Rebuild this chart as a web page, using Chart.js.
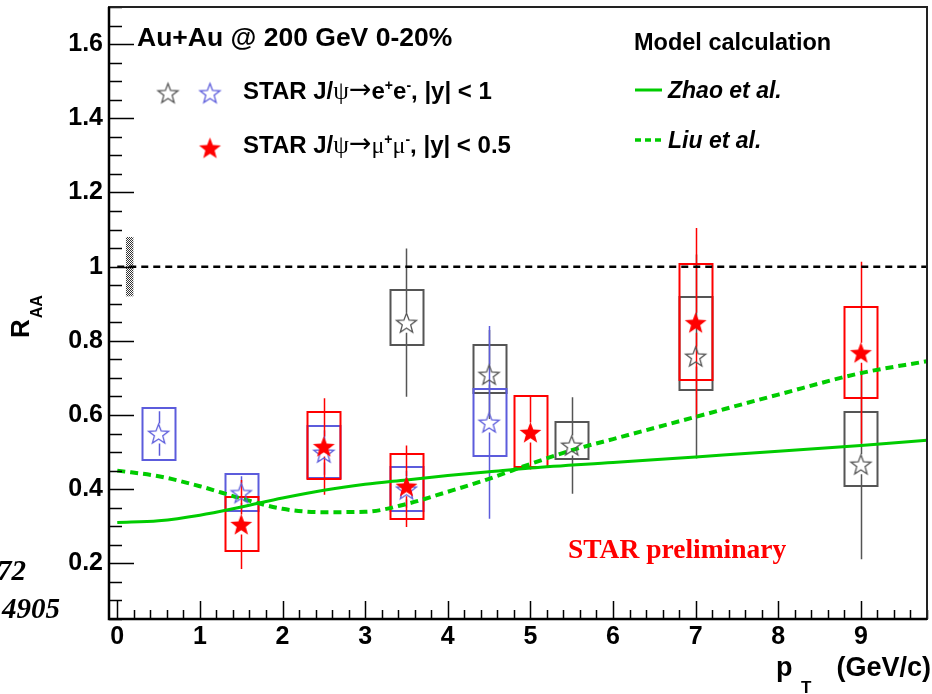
<!DOCTYPE html>
<html>
<head>
<meta charset="utf-8">
<script src="https://cdn.jsdelivr.net/npm/chart.js@4.4.0/dist/chart.umd.min.js"></script>
<style>
  html, body { margin: 0; padding: 0; background: #fff; }
  #wrap { width: 932px; height: 694px; }
</style>
</head>
<body>
<div id="wrap"><canvas id="raa" width="932" height="694"></canvas></div>
<script>
// J/psi R_AA vs pT, Au+Au 200 GeV, 0-20% centrality

// dielectrons |y|<1, high-pT analysis (gray)
const eeHiPt = [3.5, 4.5, 5.5, 7, 9];
const eeHiRaa = [0.849, 0.709, 0.518, 0.758, 0.467];
const eeHiStat = [0.20, 0.12, 0.13, 0.275, 0.256];
const eeHiSysLo = [0.790, 0.661, 0.480, 0.669, 0.410];
const eeHiSysHi = [0.938, 0.790, 0.580, 0.919, 0.609];

// dielectrons |y|<1, low-pT analysis (blue)
const eeLoPt = [0.5, 1.5, 2.5, 3.5, 4.5];
const eeLoRaa = [0.550, 0.390, 0.499, 0.400, 0.580];
const eeLoStat = [0.06, 0.045, 0.06, 0.05, 0.26];
const eeLoSysLo = [0.480, 0.340, 0.429, 0.340, 0.488];
const eeLoSysHi = [0.620, 0.440, 0.569, 0.459, 0.669];

// dimuons |y|<0.5 (red)
const mmPt = [1.5, 2.5, 3.5, 5, 7, 9];
const mmRaa = [0.305, 0.515, 0.408, 0.553, 0.849, 0.768];
const mmStat = [0.12, 0.13, 0.11, 0.10, 0.255, 0.245];
const mmSysLo = [0.233, 0.429, 0.321, 0.459, 0.696, 0.647];
const mmSysHi = [0.378, 0.609, 0.496, 0.650, 1.008, 0.892];

// model curves
const zhaoPt = [0, 0.5, 1, 1.5, 2, 2.5, 3, 3.5, 4, 4.5, 5, 6, 7, 8, 9, 9.8];
const zhaoRaa = [0.31, 0.315, 0.33, 0.352, 0.376, 0.397, 0.413, 0.425, 0.437, 0.447, 0.457, 0.472, 0.487, 0.502, 0.518, 0.532];
const liuPt = [0, 0.5, 1, 1.5, 2, 2.5, 3, 3.5, 4, 4.5, 5, 5.5, 6, 7, 8, 9, 9.8];
const liuRaa = [0.45, 0.435, 0.408, 0.375, 0.347, 0.338, 0.339, 0.36, 0.393, 0.428, 0.468, 0.505, 0.535, 0.595, 0.655, 0.713, 0.745];

// global normalisation uncertainty drawn at R_AA = 1
const normPt = [0.15];
const normLo = [0.92];
const normHi = [1.08];
const unityPt = [0, 9.8];
const unityRaa = [1, 1];

const xTickVals = [0, 1, 2, 3, 4, 5, 6, 7, 8, 9];
const yTickVals = [0.2, 0.4, 0.6, 0.8, 1.0, 1.2, 1.4, 1.6];

const SANS = '"Liberation Sans", Arial, Helvetica, sans-serif';
const SERIF = '"Liberation Serif", "Times New Roman", serif';
const SYM = '"DejaVu Sans", sans-serif';
const GRAY = '#555555';
const BLUE = '#5c5cdc';
const RED = '#ff0000';
const GREEN = '#00cc00';
const BOX_HALF = 0.2;

function starImage(fill, stroke, r) {
  const size = Math.ceil(2 * r + 4);
  const c = document.createElement('canvas');
  c.width = c.height = size;
  const g = c.getContext('2d');
  g.beginPath();
  for (let i = 0; i < 10; i++) {
    const rad = i % 2 ? r * 0.42 : r;
    const a = -Math.PI / 2 + i * Math.PI / 5;
    const px = size / 2 + rad * Math.cos(a);
    const py = size / 2 + 1 + rad * Math.sin(a);
    if (i) g.lineTo(px, py); else g.moveTo(px, py);
  }
  g.closePath();
  if (fill) { g.fillStyle = fill; g.fill(); }
  if (stroke) { g.strokeStyle = stroke; g.lineWidth = 1.3; g.stroke(); }
  return c;
}

const starGray = starImage(null, GRAY, 10.5);
const starBlue = starImage(null, BLUE, 10.5);
const starRed = starImage(RED, null, 11.5);

const pts = (xs, ys) => xs.map((x, i) => ({ x, y: ys[i] }));

// systematic boxes + statistical bars, under the markers
const errorBoxes = {
  id: 'errorBoxes',
  beforeDatasetsDraw(chart) {
    const { ctx, scales: { x, y } } = chart;
    ctx.save();
    ctx.beginPath();
    ctx.rect(chart.chartArea.left, chart.chartArea.top, chart.chartArea.width, chart.chartArea.height);
    ctx.clip();

    // normalisation band
    const pat = document.createElement('canvas');
    pat.width = pat.height = 2;
    const pg = pat.getContext('2d');
    pg.fillStyle = '#fff'; pg.fillRect(0, 0, 2, 2);
    pg.fillStyle = '#333'; pg.fillRect(0, 0, 1, 1); pg.fillRect(1, 1, 1, 1);
    ctx.fillStyle = ctx.createPattern(pat, 'repeat');
    normPt.forEach((p, i) => {
      const x0 = x.getPixelForValue(p - 0.045), x1 = x.getPixelForValue(p + 0.045);
      const y0 = y.getPixelForValue(normHi[i]), y1 = y.getPixelForValue(normLo[i]);
      ctx.fillRect(x0, y0, x1 - x0, y1 - y0);
    });

    const series = [
      [eeHiPt, eeHiRaa, eeHiStat, eeHiSysLo, eeHiSysHi, GRAY],
      [eeLoPt, eeLoRaa, eeLoStat, eeLoSysLo, eeLoSysHi, BLUE],
      [mmPt, mmRaa, mmStat, mmSysLo, mmSysHi, RED],
    ];
    for (const [px, py, st, lo, hi, col] of series) {
      ctx.strokeStyle = col;
      ctx.lineWidth = 1.5;
      px.forEach((p, i) => {
        const cx = Math.round(x.getPixelForValue(p)) + 0.5;
        const cy = y.getPixelForValue(py[i]);
        const top = y.getPixelForValue(py[i] + st[i]);
        const bot = y.getPixelForValue(py[i] - st[i]);
        const gap = 10;
        ctx.beginPath();
        if (cy - gap > top) { ctx.moveTo(cx, top); ctx.lineTo(cx, cy - gap); }
        if (cy + gap < bot) { ctx.moveTo(cx, cy + gap); ctx.lineTo(cx, bot); }
        ctx.stroke();
      });
      ctx.lineWidth = 2;
      px.forEach((p, i) => {
        const x0 = x.getPixelForValue(p - BOX_HALF), x1 = x.getPixelForValue(p + BOX_HALF);
        const y0 = y.getPixelForValue(hi[i]), y1 = y.getPixelForValue(lo[i]);
        ctx.strokeRect(Math.round(x0) + 0.5, Math.round(y0), Math.round(x1 - x0), Math.round(y1 - y0));
      });
    }
    ctx.restore();
  }
};

// ROOT-style frame with inward ticks
const frame = {
  id: 'frame',
  afterDatasetsDraw(chart) {
    const { ctx, chartArea: a, scales: { x, y } } = chart;
    ctx.save();
    ctx.strokeStyle = '#000';
    ctx.lineWidth = 1.5;
    ctx.beginPath();
    for (let k = 0; k <= 49; k++) {
      const v = k * 0.2;
      if (v > x.max) break;
      const px = Math.round(x.getPixelForValue(v)) + 0.5;
      const len = k % 5 === 0 ? 18 : 9;
      ctx.moveTo(px, a.bottom); ctx.lineTo(px, a.bottom - len);
    }
    for (let k = 1; k <= 34; k++) {
      const v = k * 0.05;
      if (v > y.max + 1e-9) break;
      const py = Math.round(y.getPixelForValue(v)) + 0.5;
      const len = k % 4 === 0 ? 25 : 13;
      ctx.moveTo(a.left, py); ctx.lineTo(a.left + len, py);
    }
    ctx.stroke();
    ctx.lineWidth = 2;
    ctx.strokeStyle = '#222';
    ctx.strokeRect(a.left, a.top, a.right - a.left, a.bottom - a.top);
    ctx.lineWidth = 2.5;
    ctx.strokeStyle = '#000';
    ctx.beginPath();
    ctx.moveTo(a.left, a.top); ctx.lineTo(a.left, a.bottom); ctx.lineTo(a.right, a.bottom);
    ctx.stroke();
    ctx.restore();
  }
};

function drawRich(ctx, x, y, parts) {
  for (const p of parts) {
    ctx.font = p.f;
    ctx.fillText(p.t, x, y + (p.dy || 0));
    x += ctx.measureText(p.t).width + (p.dx || 0);
  }
}

// titles, legends and annotations
const annotations = {
  id: 'annotations',
  afterDraw(chart) {
    const { ctx } = chart;
    ctx.save();
    ctx.fillStyle = '#000';
    ctx.textBaseline = 'alphabetic';
    ctx.textAlign = 'left';

    ctx.font = `bold 26.5px ${SANS}`;
    ctx.fillText('Au+Au @ 200 GeV 0-20%', 137, 46);

    const B = `bold 24px ${SANS}`, PSI = `25px ${SERIF}`, ARR = `27px ${SYM}`, MU = `24px ${SERIF}`;
    const SUP = `bold 14px ${SANS}`;
    ctx.drawImage(starGray, 168 - starGray.width / 2, 93 - starGray.height / 2);
    ctx.drawImage(starBlue, 210 - starBlue.width / 2, 93 - starBlue.height / 2);
    ctx.drawImage(starRed, 210 - starRed.width / 2, 148 - starRed.height / 2);
    drawRich(ctx, 243, 99, [
      { t: 'STAR J/', f: B }, { t: 'ψ', f: PSI }, { t: '→', f: ARR, dy: -1 },
      { t: 'e', f: B }, { t: '+', f: SUP, dy: -9 }, { t: 'e', f: B }, { t: '-', f: SUP, dy: -9 },
      { t: ', |y| < 1', f: B }
    ]);
    drawRich(ctx, 243, 153, [
      { t: 'STAR J/', f: B }, { t: 'ψ', f: PSI }, { t: '→', f: ARR, dy: -1 },
      { t: 'μ', f: MU }, { t: '+', f: SUP, dy: -9 }, { t: 'μ', f: MU }, { t: '-', f: SUP, dy: -9 },
      { t: ', |y| < 0.5', f: B }
    ]);

    ctx.font = `bold 23.5px ${SANS}`;
    ctx.fillText('Model calculation', 634, 50);
    ctx.font = `italic bold 23px ${SANS}`;
    ctx.fillText('Zhao et al.', 668, 98);
    ctx.fillText('Liu et al.', 668, 148);
    ctx.strokeStyle = GREEN;
    ctx.lineWidth = 3;
    ctx.beginPath(); ctx.moveTo(635, 90); ctx.lineTo(662, 90); ctx.stroke();
    ctx.lineWidth = 3.5;
    ctx.setLineDash([6, 4]);
    ctx.beginPath(); ctx.moveTo(635, 140); ctx.lineTo(662, 140); ctx.stroke();
    ctx.setLineDash([]);

    ctx.fillStyle = RED;
    ctx.font = `bold 27.5px ${SERIF}`;
    ctx.fillText('STAR preliminary', 568, 558);

    ctx.fillStyle = '#000';
    ctx.font = `italic bold 29px ${SERIF}`;
    ctx.textAlign = 'right';
    ctx.fillText('72', 26, 580);
    ctx.fillText('4905', 60, 618);
    ctx.textAlign = 'left';

    // axis titles
    ctx.font = `bold 27px ${SANS}`;
    ctx.fillText('p', 776, 676);
    ctx.font = `bold 17px ${SANS}`;
    ctx.fillText('T', 801, 693);
    ctx.font = `bold 27px ${SANS}`;
    ctx.textAlign = 'right';
    ctx.fillText('(GeV/c)', 931, 676);

    ctx.textAlign = 'left';
    ctx.translate(29, 338);
    ctx.rotate(-Math.PI / 2);
    ctx.font = `bold 26px ${SANS}`;
    ctx.fillText('R', 0, 0);
    const w = ctx.measureText('R').width;
    ctx.font = `bold 16px ${SANS}`;
    ctx.fillText('AA', w + 1, 13);
    ctx.restore();
  }
};

// star markers come from images, so the radius only keeps layout overflow small
new Chart(document.getElementById('raa'), {
  type: 'scatter',
  data: {
    datasets: [
      {
        data: pts(unityPt, unityRaa), showLine: true, pointRadius: 0,
        borderColor: '#000', borderWidth: 2.5, borderDash: [7, 5], order: 6
      },
      {
        data: pts(zhaoPt, zhaoRaa), showLine: true, pointRadius: 0,
        borderColor: GREEN, borderWidth: 3, cubicInterpolationMode: 'monotone', order: 5
      },
      {
        data: pts(liuPt, liuRaa), showLine: true, pointRadius: 0,
        borderColor: GREEN, borderWidth: 4, borderDash: [8, 5], cubicInterpolationMode: 'monotone', order: 4
      },
      { data: pts(eeHiPt, eeHiRaa), pointStyle: starGray, pointRadius: 1, order: 3 },
      { data: pts(eeLoPt, eeLoRaa), pointStyle: starBlue, pointRadius: 1, order: 2 },
      { data: pts(mmPt, mmRaa), pointStyle: starRed, pointRadius: 1, order: 1 }
    ]
  },
  options: {
    responsive: false,
    animation: false,
    events: [],
    layout: { padding: { top: 7, right: 3, left: 0, bottom: 0 } },
    plugins: { legend: { display: false }, tooltip: { enabled: false } },
    scales: {
      x: {
        type: 'linear', min: -0.1, max: 9.8,
        grid: { display: false, drawTicks: false }, border: { display: false },
        afterBuildTicks: s => { s.ticks = xTickVals.map(v => ({ value: v })); },
        afterFit: s => { s.height = 75; s.paddingLeft = 0; s.paddingRight = 0; },
        ticks: {
          color: '#000', padding: 3, maxRotation: 0, autoSkip: false,
          font: { family: SANS, size: 25, weight: 'bold' },
          callback: v => String(v)
        }
      },
      y: {
        type: 'linear', min: 0.05, max: 1.7,
        grid: { display: false, drawTicks: false }, border: { display: false },
        afterBuildTicks: s => { s.ticks = yTickVals.map(v => ({ value: v })); },
        afterFit: s => { s.width = 109; s.paddingTop = 0; s.paddingBottom = 0; },
        ticks: {
          color: '#000', padding: 6, autoSkip: false,
          font: { family: SANS, size: 25, weight: 'bold' },
          callback: v => String(Math.round(v * 10) / 10)
        }
      }
    }
  },
  plugins: [errorBoxes, frame, annotations]
});
</script>
</body>
</html>
